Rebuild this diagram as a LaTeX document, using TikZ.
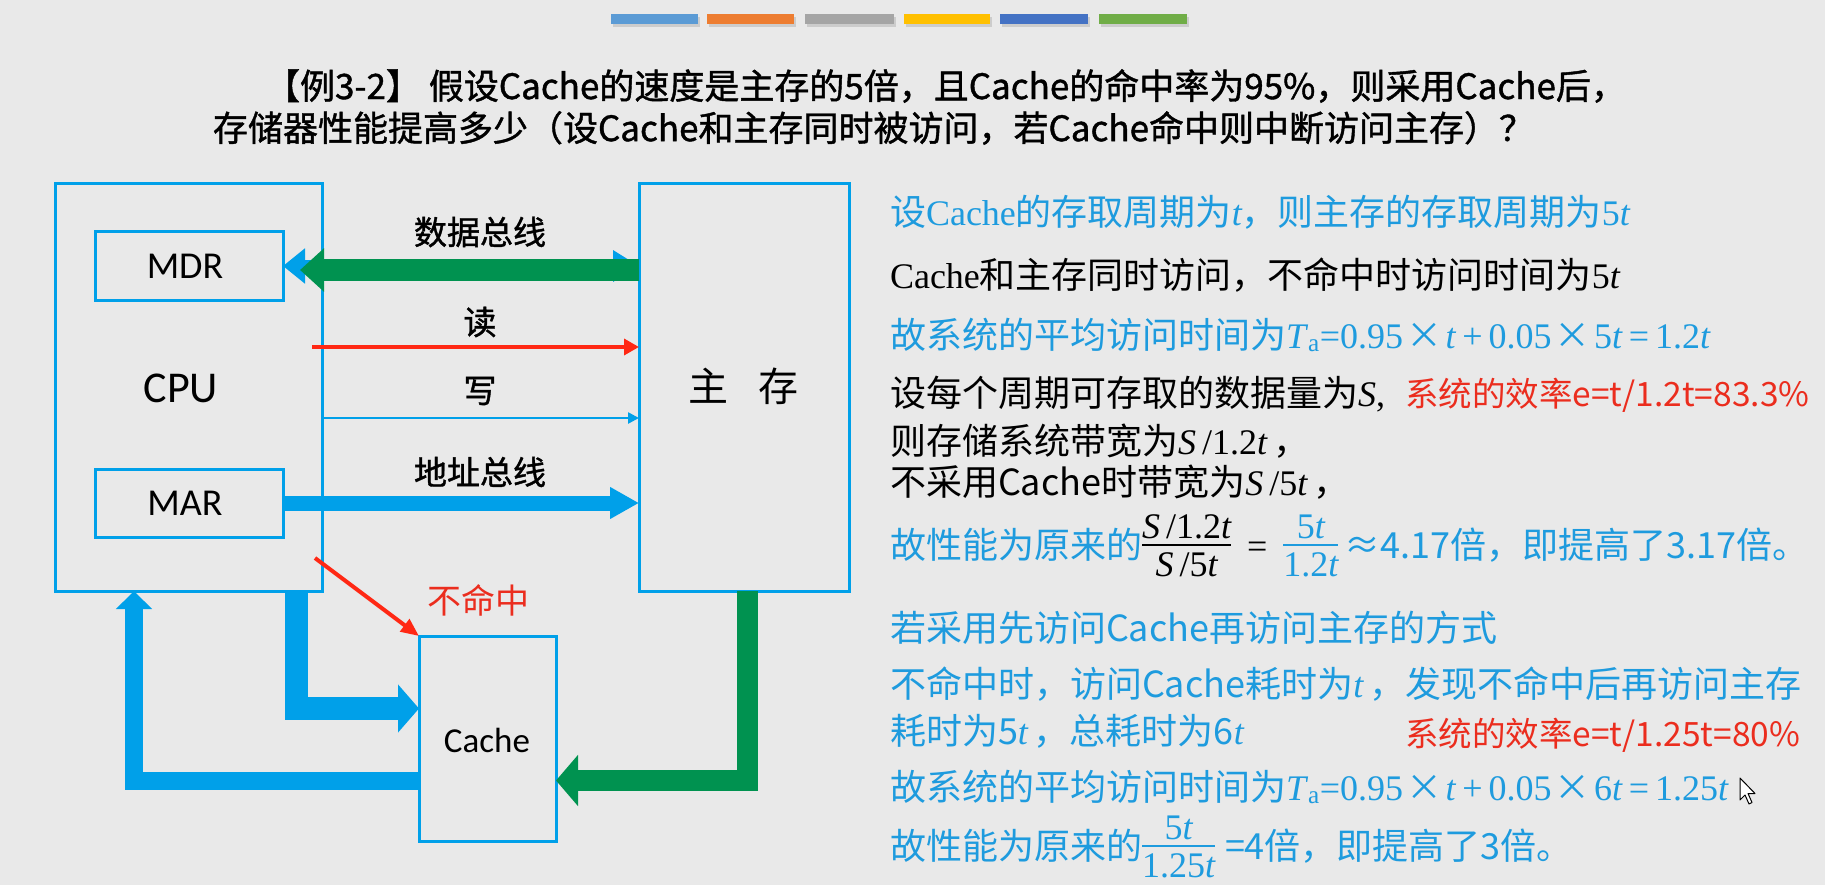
\documentclass[tikz,border=0pt]{standalone}
\usepackage{fontspec}
\usetikzlibrary{arrows.meta}
\setmainfont{Liberation Serif}
\newfontfamily\cjk{Noto Sans CJK SC}
\newfontfamily\cjkmed[FakeBold=1.2]{Noto Sans CJK SC}
\newfontfamily\tnr{Liberation Serif}
\newfontfamily\calfont{Carlito}

\definecolor{bg}{RGB}{233,233,233}
\definecolor{boxblue}{RGB}{0,160,233}
\definecolor{txtblue}{RGB}{30,155,222}
\definecolor{busgreen}{RGB}{0,146,80}
\definecolor{busred}{RGB}{255,40,20}
\definecolor{txtred}{RGB}{235,45,30}
\definecolor{barA}{HTML}{5B9BD5}
\definecolor{barB}{HTML}{ED7D31}
\definecolor{barC}{HTML}{A5A5A5}
\definecolor{barD}{HTML}{FFC000}
\definecolor{barE}{HTML}{4472C4}
\definecolor{barF}{HTML}{70AD47}

% italic variables in Times-like serif
\newcommand{\vt}{{\tnr\itshape t}}
\newcommand{\vS}{{\tnr\itshape S}}
\newcommand{\rmn}[1]{{\tnr #1}}
% multiplication sign with a little air on both sides
\newcommand{\tms}{\hspace{0.09em}×\hspace{0.09em}}
% stacked fraction with a solid bar, centred on the CJK text axis
\newcommand{\fracbox}[2]{{%
  \setbox0=\vbox{\offinterlineskip
    \halign{\hfil##\hfil\cr
      \vrule height .74em depth .04em width 0pt #1\cr
      \noalign{\kern4pt\hrule height 2.4pt\kern4pt}
      \vrule height .74em depth .04em width 0pt #2\cr}}%
  \dimen0=\dimexpr(\ht0-\dp0)/2\relax
  \raise\dimexpr .36em-\dimen0\relax\box0}}

\begin{document}
\begin{tikzpicture}[x=1pt,y=-1pt,
  every node/.style={inner sep=0pt,outer sep=0pt},
  box/.style={draw=boxblue,line width=3pt},
  buslbl/.style={font=\cjkmed\fontsize{33}{37}\selectfont},
  rt/.style={anchor=base west,font=\cjk\fontsize{36}{40}\selectfont},
  rtred/.style={anchor=base west,text=txtred,font=\cjk\fontsize{33.5}{37}\selectfont},
  ttl/.style={anchor=west,font=\cjkmed\fontsize{35}{40}\selectfont},
  fat/.style={line width=#1,line join=miter},
]
\fill[bg] (0,0) rectangle (1825,885);
\useasboundingbox (0,0) rectangle (1825,885);

% colour strip at the top
\foreach \c/\xa/\xb in {barA/611/698,barB/707/794,barC/805/894,barD/904/990,barE/1000/1088,barF/1099/1187}{
  \fill[black,opacity=0.12] (\xa+2,17) rectangle (\xb+2,27);
  \fill[\c] (\xa,14) rectangle (\xb,24);
}

% title
\node[ttl] (t1) at (265,86) {【例3-2】 假设Cache的速度是主存的5倍，且Cache的命中率为95\%，则采用Cache后，};
\node[ttl] (t2) at (213,128) {存储器性能提高多少（设Cache和主存同时被访问，若Cache命中则中断访问主存）？};

% blocks
\node[box,minimum width=267pt,minimum height=407pt] (cpu) at (188.5,387.5) {};
\node[box,minimum width=188pt,minimum height=68pt] (mdr) at (189,266) {};
\node[box,minimum width=188pt,minimum height=68pt] (mar) at (189,503) {};
\node[box,minimum width=210pt,minimum height=407pt] (mem) at (744,387.5) {};
\node[box,minimum width=137pt,minimum height=205pt] (cache) at (487.5,738.5) {};

\node[font=\calfont\fontsize{44}{50}\selectfont] (cpuT) at (181,388) {CPU};
\node[font=\calfont\fontsize{38}{44}\selectfont] (mdrT) at (185,266) {MDR};
\node[font=\calfont\fontsize{38}{44}\selectfont] (marT) at (185,503) {MAR};
\node[font=\calfont\fontsize{35}{40}\selectfont] (cacheT) at (487,740) {Cache};
\node[font=\cjk\fontsize{40}{46}\selectfont] (memT) at (743,386) {主\hspace{0.75em}存};

% data bus
\draw[boxblue,fat=12pt,{Triangle[length=22pt,width=34pt]}-{Triangle[length=26pt,width=30pt]}]
  (mdr.east) -- (mdr.east -| mem.west);
\draw[busgreen,fat=22pt,-{Triangle[length=24pt,width=42pt]}]
  ([yshift=-4pt]mdr.east -| mem.west) -- ([xshift=17pt,yshift=-4pt]mdr.east);
\node[buslbl] (dbL) at (480,232) {数据总线};

% read / write lines
\coordinate (rdS) at (312,347);
\draw[busred,line width=3.5pt,-{Triangle[length=15pt,width=16pt]}] (rdS) -- (rdS -| mem.west);
\node[buslbl] (rdL) at (480,322) {读};
\coordinate (wrS) at (cpu.east |- 0,418);
\draw[boxblue,line width=2.5pt,-{Triangle[length=11pt,width=11pt]}] (wrS) -- (wrS -| mem.west);
\node[buslbl] (wrL) at (480,391) {写};

% address bus
\draw[boxblue,fat=15pt,-{Triangle[length=29pt,width=30pt]}] (mar.east) -- (mar.east -| mem.west);
\node[buslbl] (abL) at (480,472) {地址总线};

% miss path
\coordinate (missS) at (315,558);
\draw[busred,line width=4pt,-{Triangle[length=18pt,width=15pt]}] (missS) -- (cache.north west);
\node[font=\cjk\fontsize{34}{38}\selectfont,text=txtred] (missL) at (478,600) {不命中};

% cache connections
\draw[boxblue,fat=23pt,-{Triangle[length=21pt,width=47pt]}]
  ([xshift=-26pt]cpu.south east) |- ([yshift=30pt]cache.west);
\draw[boxblue,fat=18pt,-{Triangle[length=18pt,width=35pt]}]
  ([yshift=-42pt]cache.west) -| ([xshift=79pt]cpu.south west);
\draw[busgreen,fat=21pt,-{Triangle[length=22pt,width=50pt]}]
  ([xshift=3pt]mem.south) |- ([yshift=-42pt]cache.east);

% worked solution
\node[rt,text=txtblue] (l1) at (890,226) {设\rmn{Cache}的存取周期为\vt，则主存的存取周期为\rmn{5}\vt};
\node[rt] (l2) at (890,289) {\rmn{Cache}和主存同时访问，不命中时访问时间为\rmn{5}\vt};
\node[rt,text=txtblue] (l3) at (890,348) {故系统的平均访问时间为\rmn{\textit{T}\textsubscript{a}=0.95}\tms\rmn{\textit{t}\,+\,0.05}\tms\rmn{5\textit{t}\,=\,1.2\textit{t}}};
\node[rt] (l4) at (890,406) {设每个周期可存取的数据量为\vS\rmn{,}};
\node[rtred] (l4r) at (1405,406) {系统的效率e=t/1.2t=83.3\%};
\node[rt] (l5) at (890,454) {则存储系统带宽为\vS\rmn{\,/1.2}\vt\rmn{\,}，};
\node[rt] (l6) at (890,495) {不采用Cache时带宽为\vS\rmn{\,/5}\vt\rmn{\,}，};
\node[rt,text=txtblue] (l7) at (890,558) {故性能为原来的{\color{black}\fracbox{\vS\rmn{\,/1.2}\vt}{\vS\rmn{\,/5}\vt}\rmn{\;\,=\;\,}}\fracbox{\rmn{5}\vt}{\rmn{1.2}\vt}\,≈4.17倍，即提高了3.17倍。};
\node[rt,text=txtblue] (l8) at (890,641) {若采用先访问Cache再访问主存的方式};
\node[rt,text=txtblue] (l9) at (890,697) {不命中时，访问Cache耗时为\vt\,，发现不命中后再访问主存};
\node[rt,text=txtblue] (l10) at (890,744) {耗时为5\vt\,，总耗时为6\vt};
\node[rtred] (l10r) at (1405,746) {系统的效率e=t/1.25t=80\%};
\node[rt,text=txtblue] (l11) at (890,800) {故系统的平均访问时间为\rmn{\textit{T}\textsubscript{a}=0.95}\tms\rmn{\textit{t}\,+\,0.05}\tms\rmn{6\textit{t}\,=\,1.25\textit{t}}};
\node[rt,text=txtblue] (l12) at (890,859) {故性能为原来的\fracbox{\rmn{5}\vt}{\rmn{1.25}\vt}\;=4倍，即提高了3倍。};

% pointer
\filldraw[fill=white,draw=black,line width=1pt,line join=round]
  (1740,778) -- ++(0,22) -- ++(5,-5) -- ++(4,9) -- ++(3,-1.5) -- ++(-4,-9) -- ++(7,0) -- cycle;
\end{tikzpicture}
\end{document}
